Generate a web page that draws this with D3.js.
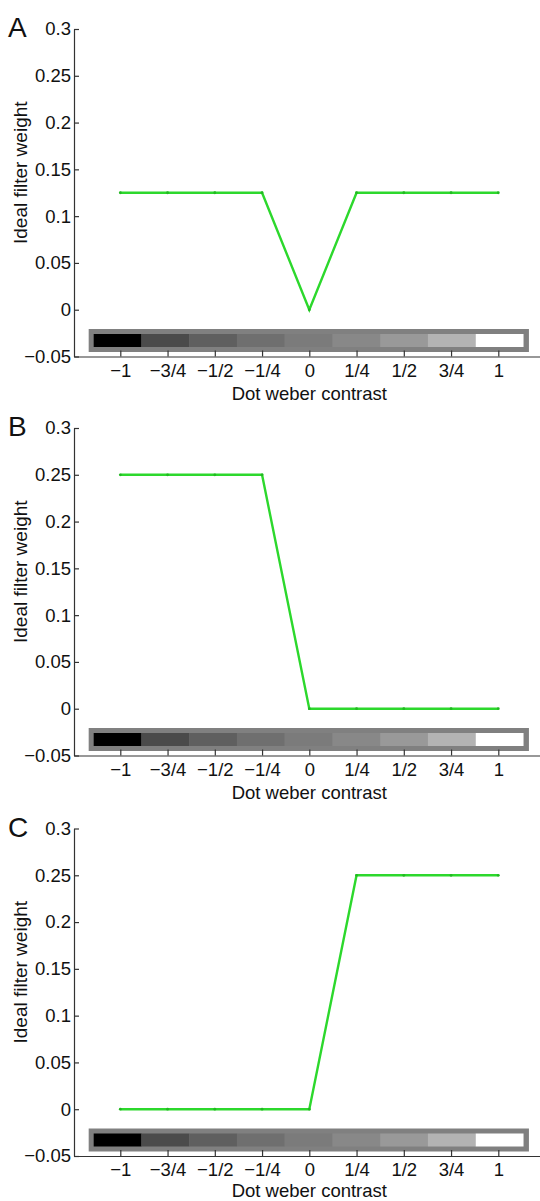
<!DOCTYPE html>
<html lang="en">
<meta charset="utf-8">
<script src="https://d3js.org/d3.v7.js"></script>
<style>
  body { margin: 0; background: #fff; }
  text { font-family: "Liberation Sans", Arial, sans-serif; fill: #111; }
</style>
<div id="my_dataviz"></div>
<script>

// contrast levels (x positions) and their tick labels
const contrasts = [-1, -0.75, -0.5, -0.25, 0, 0.25, 0.5, 0.75, 1];
const contrastLabels = ["\u22121", "\u22123/4", "\u22121/2", "\u22121/4", "0", "1/4", "1/2", "3/4", "1"];

// grey level of the dot for each contrast (colour bar)
const dotGreys = ["#000000", "#4b4b4b", "#5f5f5f", "#6f6f6f", "#7b7b7b", "#888888", "#999999", "#b3b3b3", "#ffffff"];

// ideal filter weights per panel
const weightsA = [0.125, 0.125, 0.125, 0.125, 0, 0.125, 0.125, 0.125, 0.125];
const weightsB = [0.25, 0.25, 0.25, 0.25, 0, 0, 0, 0, 0];
const weightsC = [0, 0, 0, 0, 0, 0.25, 0.25, 0.25, 0.25];

const panelNames = ["A", "B", "C"];

const yTicks = [-0.05, 0, 0.05, 0.1, 0.15, 0.2, 0.25, 0.3];
const yTickLabels = ["\u22120.05", "0", "0.05", "0.1", "0.15", "0.2", "0.25", "0.3"];

const width = 540, height = 1201;
const panelTops = [29, 428, 828.5];
const plotH = 327.5;
const fontSize = "18.5px";

const svg = d3.select("#my_dataviz")
  .append("svg")
    .attr("width", width)
    .attr("height", height);

// x scale shared by all panels; axis runs off the right edge like the original
const x = d3.scaleLinear()
  .domain([-1.245, 1.3])
  .range([74, 74 + 2.545 * 189]);
const step = x(0.25) - x(0);

function drawPanel(top, letter, weights) {
  const g = svg.append("g").attr("transform", `translate(0,${top})`);

  const y = d3.scaleLinear()
    .domain([-0.05, 0.3])
    .range([plotH, 0]);

  // colour bar of dot contrasts
  g.append("rect")
    .attr("x", x(-1) - step / 2 - 8)
    .attr("y", plotH - 27.5)
    .attr("width", x(1) - x(-1) + step + 15)
    .attr("height", 23)
    .attr("fill", "#808080");

  g.selectAll("rect.cell")
    .data(contrasts)
    .enter()
    .append("rect")
      .attr("class", "cell")
      .attr("x", (d, i) => x(d) - step / 2 - 3 + i * 0.5)
      .attr("y", plotH - 22.5)
      .attr("width", step + 0.6)
      .attr("height", 13)
      .attr("fill", (d, i) => dotGreys[i]);

  // x axis, ticks pointing inward
  const xAxis = g.append("g")
    .attr("transform", `translate(0,${plotH})`)
    .call(d3.axisBottom(x)
      .tickValues(contrasts)
      .tickFormat((d, i) => contrastLabels[i])
      .tickSizeInner(-6)
      .tickSizeOuter(0)
      .tickPadding(7));
  xAxis.selectAll("text").style("font-size", fontSize).attr("dy", "0.71em");

  // y axis
  const yAxis = g.append("g")
    .attr("transform", `translate(74,0)`)
    .call(d3.axisLeft(y)
      .tickValues(yTicks)
      .tickFormat((d, i) => yTickLabels[i])
      .tickSizeInner(-5)
      .tickSizeOuter(0)
      .tickPadding(3));
  yAxis.selectAll("text").style("font-size", fontSize);

  g.selectAll(".domain, .tick line").attr("stroke", "#333").attr("stroke-width", 1.2);
  g.selectAll(".tick text").style("fill", "#111");

  // the filter line
  const pts = contrasts.map((c, i) => ({c: c, w: weights[i]}));
  g.append("path")
    .datum(pts)
    .attr("d", d3.line()
      .x(d => x(d.c))
      .y(d => y(d.w)))
    .attr("stroke", "#2cd82c")
    .attr("stroke-width", 2.4)
    .attr("fill", "none");

  g.selectAll("circle")
    .data(pts)
    .enter()
    .append("circle")
      .attr("cx", d => x(d.c))
      .attr("cy", d => y(d.w))
      .attr("r", 1.4)
      .attr("fill", "#22b822");

  // labels
  g.append("text")
    .attr("x", 8)
    .attr("y", 8)
    .style("font-size", "28px")
    .text(letter);

  g.append("text")
    .attr("transform", `translate(27,${plotH / 2 - 20}) rotate(-90)`)
    .style("text-anchor", "middle")
    .style("font-size", "19px")
    .text("Ideal filter weight");

  // keep the last x label inside the picture
  const labelY = Math.min(plotH + 43, height - 4 - top);
  g.append("text")
    .attr("x", x(0))
    .attr("y", labelY)
    .style("text-anchor", "middle")
    .style("font-size", fontSize)
    .text("Dot weber contrast");
}

drawPanel(panelTops[0], panelNames[0], weightsA);
drawPanel(panelTops[1], panelNames[1], weightsB);
drawPanel(panelTops[2], panelNames[2], weightsC);

</script>
</html>
